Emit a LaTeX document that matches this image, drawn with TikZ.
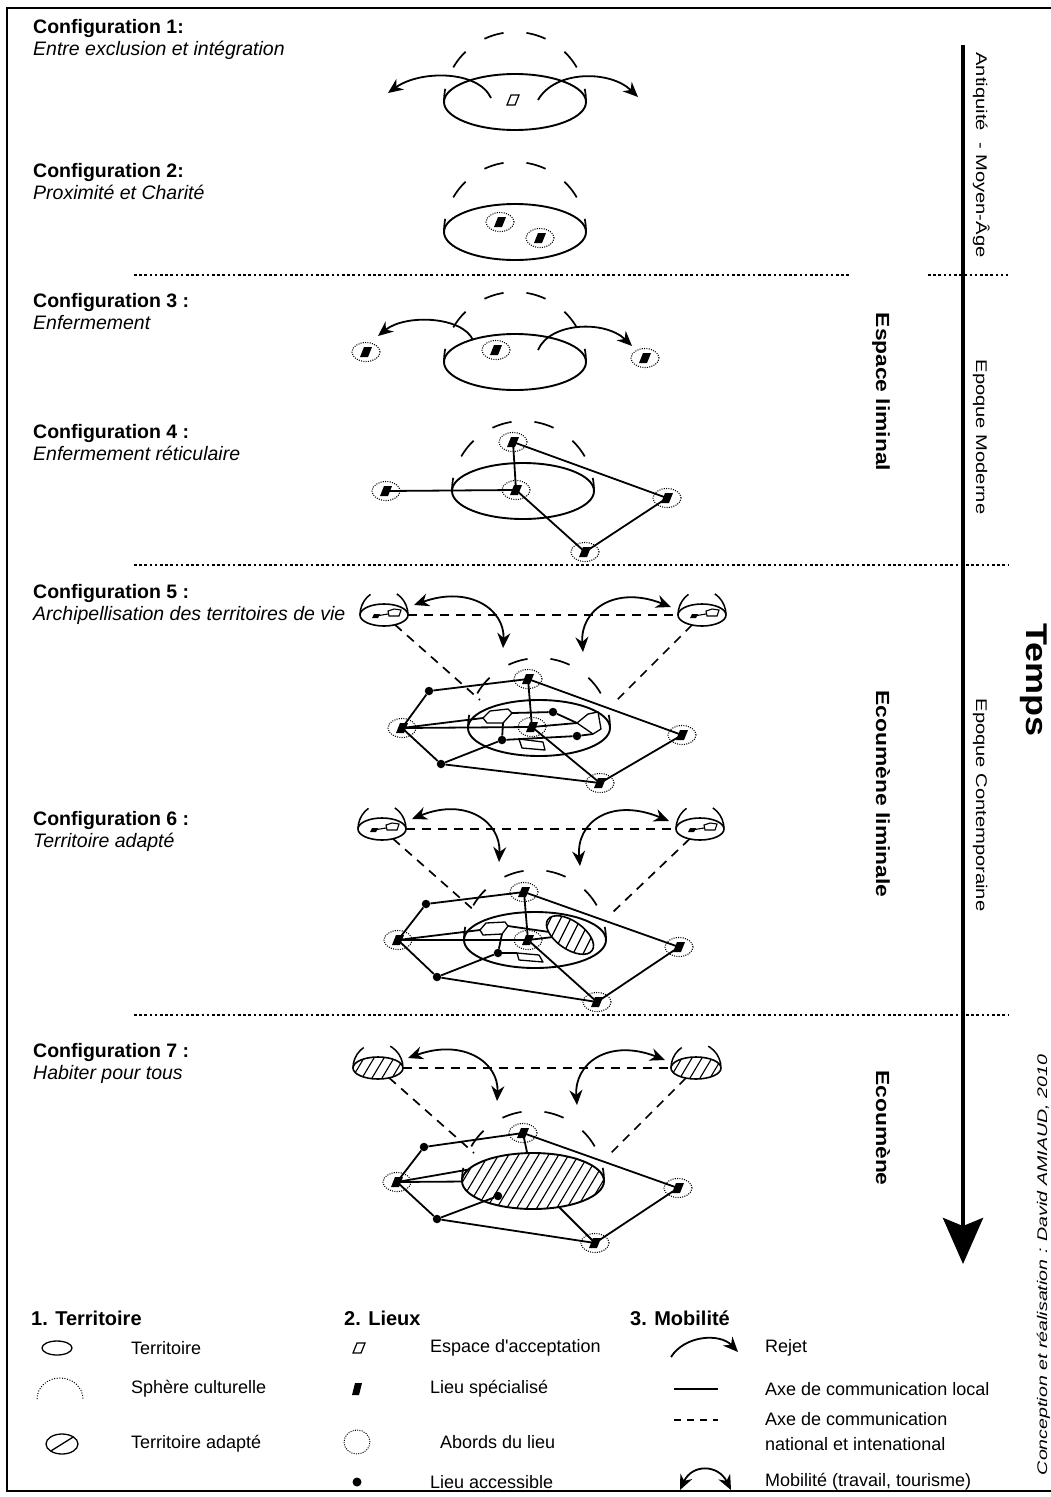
\documentclass[tikz,border=0pt]{standalone}
\usepackage{fontspec}
\setmainfont{Liberation Sans}[Ligatures=TeXOff]
\usetikzlibrary{arrows.meta,shapes.geometric}
\tikzset{
  terr/.style     ={ellipse, draw, line width=1.9pt, minimum width=142pt,
                    minimum height=56pt, inner sep=0pt, outer sep=0pt},
  ile/.style      ={ellipse, draw, line width=1.6pt, minimum width=48pt,
                    minimum height=22pt, inner sep=0pt, outer sep=0pt},
  ilevie/.style   ={ile, path picture={
                      \begin{scope}[shift={(path picture bounding box.center)}]
                        \draw[line width=1.1pt] (-8,1) -- (4,-1);
                        \draw[line width=1.1pt, fill=white] (4,-4) -- (10,-6)
                          -- (17,-5) -- (15,1) -- (5,1) -- cycle;
                        \fill (-12,3) -- (-6,3) -- (-4,-1) -- (-10,-1) -- cycle;
                      \end{scope}}},
  hach/.style     ={path picture={\foreach \k in {-140,-130,...,140}
                      \draw[line width=1.1pt]
                        ([shift={(\k-24,40)}]path picture bounding box.center)
                        -- ++(48,-80);}},
  sphere/.style   ={line width=1.7pt, dash pattern=on 20pt off 23pt,
                    dash phase=6.75pt},
  petitesph/.style={line width=1.5pt, dash pattern=on 24pt off 28pt},
  lieu/.style     ={ellipse, draw, line width=1.1pt,
                    dash pattern=on 1pt off 1.3pt, minimum width=28pt,
                    minimum height=19pt, inner sep=0pt, outer sep=0pt,
                    path picture={\fill[shift={(path picture bounding box.center)}]
                      (-6,5) -- (2,5) -- (6,-5) -- (-2,-5) -- cycle;}},
  lieuspec/.style ={minimum size=14pt, inner sep=0pt,
                    path picture={\fill[shift={(path picture bounding box.center)}]
                      (-5,6) -- (2,6) -- (5,-6) -- (-2,-6) -- cycle;}},
  accept/.style   ={minimum size=16pt, inner sep=0pt,
                    path picture={\draw[line width=1.2pt,
                      shift={(path picture bounding box.center)}]
                      (-6,5) -- (2,5) -- (6,-5) -- (-2,-5) -- cycle;}},
  acces/.style    ={circle, fill, minimum size=8.5pt, inner sep=0pt},
  poly/.style     ={draw, fill=white, line width=1.3pt, line join=round},
  local/.style    ={line width=1.8pt},
  natio/.style    ={line width=1.7pt, dash pattern=on 9pt off 7pt},
  rejet/.style    ={-{Stealth[length=15pt, width=13pt]}, line width=1.8pt},
  mobil/.style    ={{Stealth[length=15pt, width=13pt]}-{Stealth[length=15pt, width=13pt]},
                    line width=1.8pt},
  sep/.style      ={line width=2.8pt, dash pattern=on 2.6pt off 2.6pt},
  titre/.style    ={anchor=base west, inner sep=0pt,
                    font=\fontsize{19.5}{22}\selectfont\bfseries},
  soustitre/.style={anchor=base west, inner sep=0pt,
                    font=\fontsize{19.5}{22}\selectfont\itshape},
  legtitre/.style ={anchor=base west, inner sep=0pt,
                    font=\fontsize{20}{24}\selectfont\bfseries},
  legtexte/.style ={anchor=west, inner sep=0pt, align=left,
                    font=\fontsize{18}{25}\selectfont},
  periode/.style  ={rotate=-90, xscale=1.3, anchor=base, inner sep=0pt,
                    font=\fontsize{15.5}{18}\selectfont},
  espace/.style   ={rotate=-90, xscale=1.2, anchor=base, inner sep=0pt,
                    font=\fontsize{19}{22}\selectfont\bfseries},
}

\begin{document}
\begin{tikzpicture}[x=1pt, y=-1pt]
\useasboundingbox (0,0) rectangle (1051,1497);
\clip (0,0) rectangle (1051,1497);
\draw[line width=2pt] (7,8) rectangle (1080,1491);

% titres
\node[titre]     (ti1) at (33,33)   {Configuration 1:};
\node[soustitre] (st1) at (33,55)   {Entre exclusion et intégration};
\node[titre]     (ti2) at (33,177)  {Configuration 2:};
\node[soustitre] (st2) at (33,199)  {Proximité et Charité};
\node[titre]     (ti3) at (33,307)  {Configuration 3 :};
\node[soustitre] (st3) at (33,329)  {Enfermement};
\node[titre]     (ti4) at (33,438)  {Configuration 4 :};
\node[soustitre] (st4) at (33,460)  {Enfermement réticulaire};
\node[titre]     (ti5) at (33,598)  {Configuration 5 :};
\node[soustitre] (st5) at (33,620)  {Archipellisation des territoires de vie};
\node[titre]     (ti6) at (33,825)  {Configuration 6 :};
\node[soustitre] (st6) at (33,847)  {Territoire adapté};
\node[titre]     (ti7) at (33,1057) {Configuration 7 :};
\node[soustitre] (st7) at (33,1079) {Habiter pour tous};

% separateurs
\draw[sep] (134,275)  -- (850,275);
\draw[sep] (928,275)  -- (1008,275);
\draw[sep] (134,565)  -- (1008,565);
\draw[sep] (134,1015) -- (1008,1015);

% configuration 1
\node[terr] (t1) at (515,102) {};
\draw[sphere] (t1.west) arc[start angle=180, end angle=360, x radius=71, y radius=70];
\node[accept] (e1) at (513,100) {};
\coordinate (r1g) at (491,98);  \coordinate (r1gb) at (388,93);
\coordinate (r1d) at (538,100); \coordinate (r1db) at (638,97);
\draw[rejet] (r1g) .. controls (478,70) and (420,70) .. (r1gb);
\draw[rejet] (r1d) .. controls (555,70) and (610,70) .. (r1db);

% configuration 2
\node[terr] (t2) at (515,232) {};
\draw[sphere] (t2.west) arc[start angle=180, end angle=360, x radius=71, y radius=70];
\node[lieu] (l2a) at (500,222) {};
\node[lieu] (l2b) at (540,238) {};

% configuration 3
\node[terr] (t3) at (515,362) {};
\draw[sphere] (t3.west) arc[start angle=180, end angle=360, x radius=71, y radius=70];
\node[lieu] (l3g) at (366,352) {};
\node[lieu] (l3c) at (496,350) {};
\node[lieu] (l3d) at (645,358) {};
\coordinate (r3g) at (473,340); \coordinate (r3gb) at (378,336);
\coordinate (r3d) at (538,350); \coordinate (r3db) at (632,346);
\draw[rejet] (r3g) .. controls (462,316) and (405,314) .. (r3gb);
\draw[rejet] (r3d) .. controls (550,322) and (605,320) .. (r3db);

% configuration 4
\node[terr] (t4) at (523,491) {};
\draw[sphere] (t4.west) arc[start angle=180, end angle=360, x radius=71, y radius=70];
\node[lieu] (l4h) at (513,442) {};
\node[lieu] (l4g) at (386,491) {};
\node[lieu] (l4c) at (516,490) {};
\node[lieu] (l4d) at (667,498) {};
\node[lieu] (l4b) at (585,552) {};
\draw[local] (l4h.center) -- (l4c.center) -- (l4b.center) -- (l4d.center) -- (l4h.center);
\draw[local] (l4g.center) -- (l4c.center);

% configuration 5
\node[terr] (t5) at (539,728) {};
\draw[sphere] (t5.west) arc[start angle=180, end angle=360, x radius=71, y radius=70];
\node[ilevie] (i5g) at (384,615) {};
\node[ilevie] (i5d) at (702,615) {};
\draw[petitesph] (i5g.west) arc[start angle=180, end angle=360, x radius=24, y radius=25];
\draw[petitesph] (i5d.west) arc[start angle=180, end angle=360, x radius=24, y radius=25];
\coordinate (d5g) at (480,700); \coordinate (d5d) at (617,700);
\draw[natio] (i5g) -- (i5d);
\draw[natio] (i5g) -- (d5g);
\draw[natio] (i5d) -- (d5d);
\coordinate (m5a) at (414,605); \coordinate (m5b) at (503,648);
\coordinate (m5c) at (671,607); \coordinate (m5d) at (583,652);
\draw[mobil] (m5a) .. controls (470,585) and (505,610) .. (m5b);
\draw[mobil] (m5c) .. controls (615,585) and (580,610) .. (m5d);
\draw[poly] (483,718) coordinate (x5g) -- (490,711) -- (508,709)
  -- (512,713) coordinate (x5d) -- (503,723) coordinate (x5b) -- (487,723) -- cycle;
\draw[poly] (519,739) -- (543,742) -- (545,750) -- (522,748) -- cycle;
\draw[poly] (577,723) coordinate (q5g) -- (588,714) -- (598,712) -- (601,729)
  -- (593,734) coordinate (q5b) -- cycle;
\node[lieu]  (p5h)  at (528,679) {};
\node[lieu]  (p5g)  at (402,728) {};
\node[lieu]  (p5d)  at (682,735) {};
\node[lieu]  (p5b)  at (600,783) {};
\node[lieu]  (p5c)  at (532,727) {};
\node[acces] (a5hg) at (429,691) {};
\node[acces] (a5bg) at (441,764) {};
\node[acces] (a5i)  at (502,740) {};
\node[acces] (a5ih) at (553,712) {};
\node[acces] (a5id) at (577,736) {};
\draw[local] (p5g.center) -- (a5hg) -- (p5h.center) -- (p5d.center)
  -- (p5b.center) -- (a5bg) -- (p5g.center);
\draw[local] (p5g.center) -- (x5g);
\draw[local] (p5g.center) -- (p5c.center) -- (q5g);
\draw[local] (p5h.center) -- (p5c.center) -- (p5b.center);
\draw[local] (x5d) -- (a5ih) -- (q5g);
\draw[local] (x5b) -- (a5i) -- (a5bg);
\draw[local] (a5i) -- (a5id) -- (q5b);

% configuration 6
\node[terr] (t6) at (535,940) {};
\draw[sphere] (t6.west) arc[start angle=180, end angle=360, x radius=71, y radius=70];
\node[ilevie] (i6g) at (382,829) {};
\node[ilevie] (i6d) at (700,829) {};
\draw[petitesph] (i6g.west) arc[start angle=180, end angle=360, x radius=24, y radius=25];
\draw[petitesph] (i6d.west) arc[start angle=180, end angle=360, x radius=24, y radius=25];
\coordinate (d6g) at (476,912); \coordinate (d6d) at (613,912);
\draw[natio] (i6g) -- (i6d);
\draw[natio] (i6g) -- (d6g);
\draw[natio] (i6d) -- (d6d);
\coordinate (m6a) at (412,819); \coordinate (m6b) at (499,862);
\coordinate (m6c) at (669,821); \coordinate (m6d) at (580,866);
\draw[mobil] (m6a) .. controls (466,797) and (501,822) .. (m6b);
\draw[mobil] (m6c) .. controls (611,797) and (576,822) .. (m6d);
\node[ellipse, draw, line width=1.6pt, minimum width=54pt, minimum height=28pt,
      inner sep=0pt, outer sep=0pt, rotate=-35] (h6) at (570,935) {};
\begin{scope}
  \clip[rotate around={-35:(570,935)}] (570,935) ellipse [x radius=27, y radius=14];
  \foreach \k in {-50,-40,...,50}
    \draw[line width=1.2pt] (560+\k,960) -- ++(25,-50);
\end{scope}
\draw[poly] (480,930) coordinate (x6g) -- (486,923) -- (505,922)
  -- (508,926) coordinate (x6d) -- (502,934) coordinate (x6b) -- (483,935) -- cycle;
\draw[poly] (517,953) coordinate (b6g) -- (539,955) -- (543,962) -- (519,960) -- cycle;
\node[lieu]  (p6h)  at (524,892) {};
\node[lieu]  (p6g)  at (398,940) {};
\node[lieu]  (p6d)  at (679,947) {};
\node[lieu]  (p6b)  at (597,1002) {};
\node[lieu]  (p6c)  at (528,940) {};
\node[acces] (a6hg) at (426,904) {};
\node[acces] (a6bg) at (437,977) {};
\node[acces] (a6i)  at (498,953) {};
\draw[local] (p6g.center) -- (a6hg) -- (p6h.center) -- (p6d.center)
  -- (p6b.center) -- (a6bg) -- (p6g.center);
\draw[local] (p6g.center) -- (x6g);
\draw[local] (p6g.center) -- (p6c.center) -- (h6);
\draw[local] (p6h.center) -- (p6c.center) -- (p6b.center);
\draw[local] (x6d) -- (h6);
\draw[local] (x6b) -- (a6i) -- (a6bg);
\draw[local] (a6i) -- (b6g);

% configuration 7
\node[terr, hach] (t7) at (533,1181) {};
\draw[sphere] (t7.west) arc[start angle=180, end angle=360, x radius=71, y radius=70];
\node[ile, hach, minimum width=50pt] (i7g) at (378,1068) {};
\node[ile, hach, minimum width=50pt] (i7d) at (696,1068) {};
\draw[petitesph] (i7g.west) arc[start angle=180, end angle=360, x radius=25, y radius=25];
\draw[petitesph] (i7d.west) arc[start angle=180, end angle=360, x radius=25, y radius=25];
\coordinate (d7g) at (474,1153); \coordinate (d7d) at (611,1153);
\draw[natio] (i7g) -- (i7d);
\draw[natio] (i7g) -- (d7g);
\draw[natio] (i7d) -- (d7d);
\coordinate (m7a) at (408,1058); \coordinate (m7b) at (497,1101);
\coordinate (m7c) at (665,1060); \coordinate (m7d) at (577,1105);
\draw[mobil] (m7a) .. controls (464,1038) and (499,1063) .. (m7b);
\draw[mobil] (m7c) .. controls (609,1038) and (574,1063) .. (m7d);
\node[lieu]  (p7h)  at (523,1133) {};
\node[lieu]  (p7g)  at (397,1182) {};
\node[lieu]  (p7d)  at (678,1188) {};
\node[lieu]  (p7b)  at (595,1243) {};
\node[acces] (a7hg) at (424,1147) {};
\node[acces] (a7bg) at (437,1219) {};
\node[acces] (a7i)  at (498,1196) {};
\draw[local] (p7g.center) -- (a7hg) -- (p7h.center) -- (p7d.center)
  -- (p7b.center) -- (a7bg) -- (p7g.center);
\draw[local] (p7g.center) -- (t7);
\draw[local] (p7g.center) -- (t7.170);
\draw[local] (p7h.center) -- (t7);
\draw[local] (p7b.center) -- (t7);
\draw[local] (a7bg) -- (a7i);

% axe du temps
\coordinate (tdeb) at (963,45);
\coordinate (tfin) at (963,1264);
\draw[line width=4.5pt, -{Stealth[length=46pt, width=40pt, inset=8pt]}] (tdeb) -- (tfin);
\node[periode] (pa) at (976,155) {Antiquité\ \ - Moyen-Âge};
\node[periode] (pm) at (976,437) {Epoque Moderne};
\node[periode] (pc) at (976,805) {Epoque Contemporaine};
\node[espace]  (el) at (876,392) {Espace liminal};
\node[espace]  (eo) at (876,794) {Ecoumène liminale};
\node[espace]  (ec) at (876,1128) {Ecoumène};
\node[rotate=-90, xscale=1.2, anchor=base, inner sep=0pt,
      font=\fontsize{30}{34}\selectfont\bfseries] (tp) at (1026,680) {Temps};
\node[rotate=90, xscale=1.4, anchor=base, inner sep=0pt,
      font=\fontsize{14}{17}\selectfont\itshape] (cr) at (1047,1265)
  {Conception et réalisation : David AMIAUD, 2010};

% legende
\node[legtitre] (lt1) at (31,1325)  {1. Territoire};
\node[legtitre] (lt2) at (344,1325) {2. Lieux};
\node[legtitre] (lt3) at (630,1325) {3. Mobilité};
\node[ellipse, draw, line width=1.3pt, minimum width=30pt, minimum height=14pt,
      inner sep=0pt] (s1) at (57,1348) {};
\node[legtexte] (x1) at (131,1348) {Territoire};
\draw[line width=1pt, dash pattern=on 1pt off 1.6pt]
  (37,1399) arc[start angle=180, end angle=360, x radius=23, y radius=21];
\node[legtexte] (x2) at (131,1389) {Sphère culturelle};
\node[ellipse, draw, line width=1.3pt, minimum width=32pt, minimum height=20pt,
      inner sep=0pt, path picture={\draw[line width=1.3pt]
        (path picture bounding box.south west) -- (path picture bounding box.north east);}]
  (s3) at (62,1444) {};
\node[legtexte] (x3) at (131,1444) {Territoire adapté};
\node[accept] (s4) at (359,1348) {};
\node[legtexte] (x4) at (430,1348) {Espace d'acceptation};
\node[lieuspec] (s5) at (357,1389) {};
\node[legtexte] (x5) at (430,1389) {Lieu spécialisé};
\node[ellipse, draw, line width=1pt, dash pattern=on 1pt off 1.3pt,
      minimum width=26pt, minimum height=24pt, inner sep=0pt] (s6) at (357,1442) {};
\node[legtexte] (x6) at (440,1442) {Abords du lieu};
\node[acces, minimum size=9pt] (s7) at (357,1482) {};
\node[legtexte] (x7) at (430,1482) {Lieu accessible};
\draw[rejet] (671,1357) .. controls (685,1335) and (720,1333) .. (738,1352);
\node[legtexte] (x8) at (765,1348) {Rejet};
\draw[local] (674,1389) -- (718,1389);
\node[legtexte] (x9) at (765,1389) {Axe de communication local};
\draw[natio, dash pattern=on 7pt off 6pt] (674,1420) -- (718,1420);
\node[legtexte] (x10) at (765,1432) {Axe de communication\\national et intenational};
\draw[mobil] (680,1490) .. controls (692,1464) and (718,1464) .. (731,1490);
\node[legtexte] (x11) at (765,1482) {Mobilité (travail, tourisme)};
\end{tikzpicture}
\end{document}
